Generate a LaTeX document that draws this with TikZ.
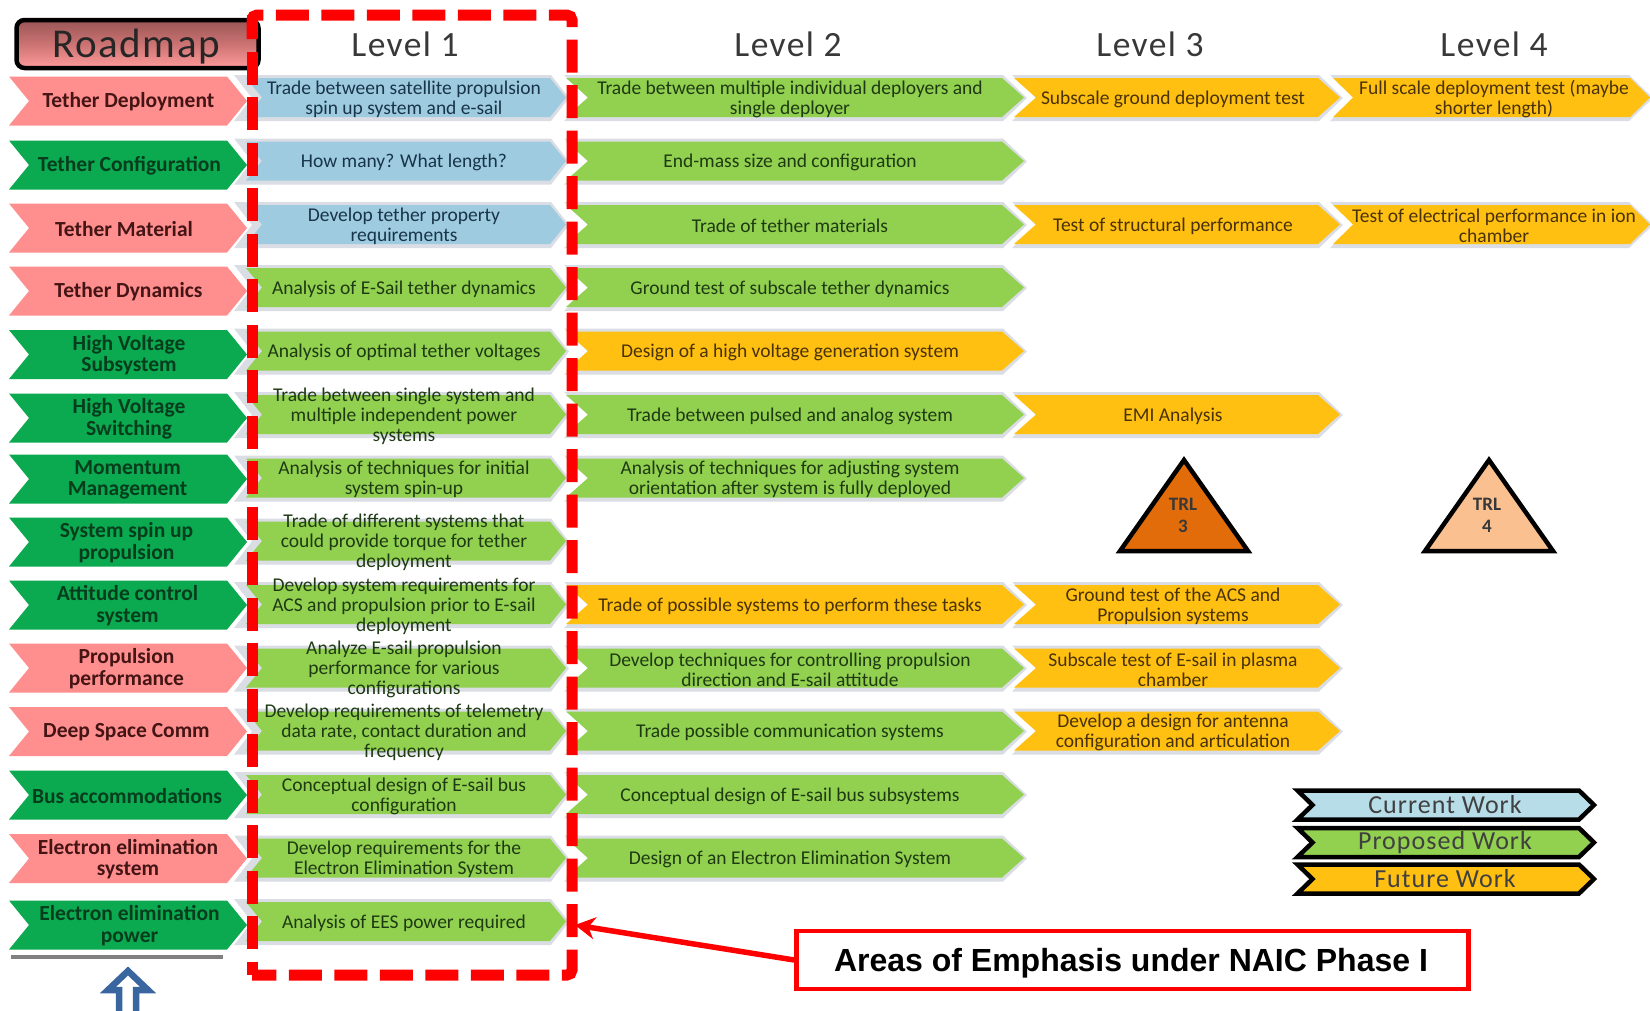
\documentclass[tikz,border=0pt]{standalone}
\usepackage{fontspec}
\setmainfont{Carlito}
\newfontfamily\arialb{Liberation Sans}[BoldFont={* Bold}]
\newfontfamily\cwide{Carlito}[LetterSpace=4]
\usetikzlibrary{arrows.meta}
\definecolor{cB}{HTML}{9FCBE0}
\definecolor{cG}{HTML}{92D050}
\definecolor{cO}{HTML}{FFC011}
\definecolor{tB}{HTML}{17344A}
\definecolor{tG}{HTML}{1E3A12}
\definecolor{tO}{HTML}{4A3208}
\definecolor{cShadow}{HTML}{DADDE4}
\definecolor{cP}{HTML}{FF8F8F}
\definecolor{cD}{HTML}{0BA950}
\definecolor{tP}{HTML}{451414}
\definecolor{tD}{HTML}{063D1C}
\definecolor{cRed}{HTML}{FF0000}
\definecolor{cTr}{HTML}{E36C0A}
\definecolor{cTs}{HTML}{FAC090}
\definecolor{cArrow}{HTML}{3A66A0}
\definecolor{cLegB}{HTML}{B7DDE8}
\tikzset{
  txt/.style={align=center,inner sep=0pt,font=\fontsize{19.5}{20}\selectfont},
  lefttxt/.style={align=center,inner sep=0pt,font=\fontsize{21.5}{21.5}\selectfont\bfseries},
  titletxt/.style={inner sep=0pt,text=black!78,font=\cwide\fontsize{35.5}{38}\selectfont},
  legendtxt/.style={inner sep=0pt,text=black!75,font=\cwide\fontsize{26}{28}\selectfont},
  redline/.style={draw=cRed,line width=11pt,rounded corners=5pt,line cap=butt},
  trl/.style={draw=black,line width=4.5pt,line join=miter},
  trltxt/.style={align=center,inner sep=0pt,text=black!78,font=\fontsize{19}{22}\selectfont\bfseries},
}
% style, x0, x1, yc, half height, depth
\newcommand\band[6]{\path[#1] (#2,#4-#5) -- (#3-#6,#4-#5) -- (#3,#4) -- (#3-#6,#4+#5) -- (#2,#4+#5) -- (#2+#6,#4) -- cycle;}
% name, row y, colour letter, text
\newcommand\LvOne[4]{\band{fill=cShadow}{234}{569}{#2+0.5}{23}{18}\band{fill=c#3}{246}{566}{#2}{19.5}{16}\node[txt,text=t#3] (#1) at (404,#2+1.5) {#4};}
\newcommand\LvTwo[4]{\band{fill=cShadow}{564}{1027}{#2+0.5}{23}{24}\band{fill=c#3}{566}{1024}{#2}{19.5}{22}\node[txt,text=t#3] (#1) at (790,#2+1.5) {#4};}
\newcommand\LvThree[4]{\band{fill=cShadow}{1012}{1343}{#2+0.5}{23}{24}\band{fill=c#3}{1014}{1340}{#2}{19.5}{22}\node[txt,text=t#3] (#1) at (1173,#2+1.5) {#4};}
\newcommand\LvFour[4]{\band{fill=cShadow}{1330}{1653}{#2+0.5}{23}{24}\band{fill=c#3}{1333}{1650}{#2}{19.5}{20}\node[txt,text=t#3] (#1) at (1494,#2+1.5) {#4};}
% name, y, colour letter, text x, text
\newcommand\Lft[5]{\band{fill=c#3}{9}{247}{#2}{24.5}{20}\node[lefttxt,text=t#3] (#1) at (#4,#2+0.6) {#5};}
% name, y, fill colour, text
\newcommand\Leg[4]{\band{draw=black,line width=4.5pt,fill=#3}{1297.5}{1594}{#2}{14.5}{15}\node[legendtxt] (#1) at (1445,#2) {#4};}
\begin{document}
\begin{tikzpicture}[x=1pt,y=-1pt]
\useasboundingbox (0,0) rectangle (1650,1010);
\fill[white] (0,0) rectangle (1650,1010);
% level chevrons
\LvOne{aA}{97.5}{B}{Trade between satellite propulsion\\spin up system and e-sail}
\LvTwo{bA}{97.5}{G}{Trade between multiple individual deployers and\\single deployer}
\LvThree{cA}{97.5}{O}{Subscale ground deployment test}
\LvFour{dA}{97.5}{O}{Full scale deployment test (maybe\\shorter length)}
\LvOne{aB}{161}{B}{How many? What length?}
\LvTwo{bB}{161}{G}{End-mass size and configuration}
\LvOne{aC}{224.5}{B}{Develop tether property\\requirements}
\LvTwo{bC}{224.5}{G}{Trade of tether materials}
\LvThree{cC}{224.5}{O}{Test of structural performance}
\LvFour{dC}{224.5}{O}{Test of electrical performance in ion\\chamber}
\LvOne{aD}{287.5}{G}{Analysis of E-Sail tether dynamics}
\LvTwo{bD}{287.5}{G}{Ground test of subscale tether dynamics}
\LvOne{aE}{351}{G}{Analysis of optimal tether voltages}
\LvTwo{bE}{351}{O}{Design of a high voltage generation system}
\LvOne{aF}{414.5}{G}{Trade between single system and\\multiple independent power\\systems}
\LvTwo{bF}{414.5}{G}{Trade between pulsed and analog system}
\LvThree{cF}{414.5}{O}{EMI Analysis}
\LvOne{aG}{478}{G}{Analysis of techniques for initial\\system spin-up}
\LvTwo{bG}{478}{G}{Analysis of techniques for adjusting system\\orientation after system is fully deployed}
\LvOne{aH}{541}{G}{Trade of different systems that\\could provide torque for tether\\deployment}
\LvOne{aI}{604.5}{G}{Develop system requirements for\\ACS and propulsion prior to E-sail\\deployment}
\LvTwo{bI}{604.5}{O}{Trade of possible systems to perform these tasks}
\LvThree{cI}{604.5}{O}{Ground test of the ACS and\\Propulsion systems}
\LvOne{aJ}{668}{G}{Analyze E-sail propulsion\\performance for various\\configurations}
\LvTwo{bJ}{668}{G}{Develop techniques for controlling propulsion\\direction and E-sail attitude}
\LvThree{cJ}{668}{O}{Subscale test of E-sail in plasma\\chamber}
\LvOne{aK}{731}{G}{Develop requirements of telemetry\\data rate, contact duration and\\frequency}
\LvTwo{bK}{731}{G}{Trade possible communication systems}
\LvThree{cK}{731}{O}{Develop a design for antenna\\configuration and articulation}
\LvOne{aL}{794.5}{G}{Conceptual design of E-sail bus\\configuration}
\LvTwo{bL}{794.5}{G}{Conceptual design of E-sail bus subsystems}
\LvOne{aM}{858}{G}{Develop requirements for the\\Electron Elimination System}
\LvTwo{bM}{858}{G}{Design of an Electron Elimination System}
\LvOne{aN}{921.5}{G}{Analysis of EES power required}
% left labels
\Lft{lA}{101}{P}{128.5}{Tether Deployment}
\Lft{lB}{165}{D}{129.5}{Tether Configuration}
\Lft{lC}{228}{P}{124}{Tether Material}
\Lft{lD}{291}{P}{128.5}{Tether Dynamics}
\Lft{lE}{354.5}{D}{129}{High Voltage\\Subsystem}
\Lft{lF}{418}{D}{129}{High Voltage\\Switching}
\Lft{lG}{479}{D}{127.5}{Momentum\\Management}
\Lft{lH}{542}{D}{126.5}{System spin up\\propulsion}
\Lft{lI}{605}{D}{127.5}{Attitude control\\system}
\Lft{lJ}{668}{P}{126.5}{Propulsion\\performance}
\Lft{lK}{731.5}{P}{126.5}{Deep Space Comm}
\Lft{lL}{795}{D}{127}{Bus accommodations}
\Lft{lM}{858.5}{P}{128}{Electron elimination\\system}
\Lft{lN}{925}{D}{129.5}{Electron elimination\\power}
\fill[black!50] (11,955) rectangle (223,959);
% titles
\node[draw=black,line width=4.5pt,rounded corners=8pt,minimum width=242pt,minimum height=48pt,top color=cP!60!black,bottom color=cP!90!white,middle color=cP!80!black,inner sep=0pt] (road) at (137.5,44) {};
\node[titletxt,font=\cwide\fontsize{41}{44}\selectfont,text=black!85] (roadT) at (136,46.5) {Roadmap};
\node[titletxt] (t1) at (405,44.5) {Level 1};
\node[titletxt] (t2) at (788,44.5) {Level 2};
\node[titletxt] (t3) at (1150,44.5) {Level 3};
\node[titletxt] (t4) at (1494,44.5) {Level 4};
% triangles
\path[trl,fill=cTr] (1184,460) -- (1248,551) -- (1120,551) -- cycle;
\node[trltxt] (trlA) at (1183,515) {TRL\\3};
\path[trl,fill=cTs] (1489,460) -- (1553,551) -- (1425,551) -- cycle;
\node[trltxt] (trlB) at (1487,515) {TRL\\4};
% legend
\Leg{legA}{805}{cLegB}{Current Work}
\Leg{legB}{842.5}{cG}{Proposed Work}
\Leg{legC}{879}{cO}{Future Work}
% red dashes
\draw[redline,dash pattern=on 33pt off 12.5pt] (252,39) -- (252,15) -- (572,15) -- (572,975) -- (252,975);
\draw[redline,dash pattern=on 33pt off 12.5pt,dash phase=19.5pt] (252,975) -- (252,15);
% callout
\node[draw=cRed,line width=4.5pt,fill=white,minimum width=672pt,minimum height=58pt,inner sep=0pt] (box) at (1132.5,960) {};
\node[inner sep=0pt,font=\arialb\fontsize{32}{34}\selectfont\bfseries,text=black] (boxT) at (1131,963) {Areas of Emphasis under NAIC Phase I};
\coordinate (tipA) at (575,925);
\draw[cRed,line width=5.5pt,-{Stealth[length=20pt,width=22pt]}] (box.west) -- (tipA);
% blue arrow
\path[draw=cArrow,line width=6.5pt,fill=white,line join=miter] (128,971) -- (148,990) -- (136,990) -- (136,1016) -- (119,1016) -- (119,990) -- (108,990) -- cycle;
\end{tikzpicture}
\end{document}
